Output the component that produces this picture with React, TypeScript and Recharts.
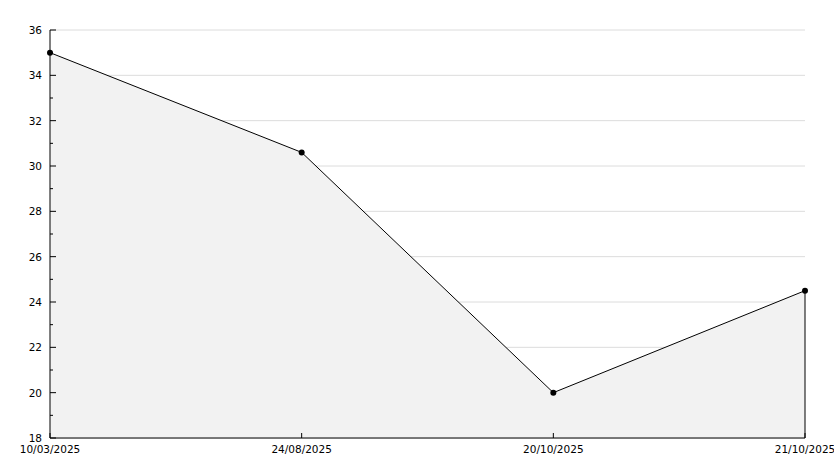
import { AreaChart, Area, XAxis, YAxis, CartesianGrid, ReferenceLine } from "recharts"

const dates = ["10/03/2025", "24/08/2025", "20/10/2025", "21/10/2025"]
const values = [35, 30.6, 20, 24.5]
const yTicks = [18, 19, 20, 21, 22, 23, 24, 25, 26, 27, 28, 29, 30, 31, 32, 33, 34, 35, 36]
const yMajor = [18, 20, 22, 24, 26, 28, 30, 32, 34, 36]

const data = dates.map((date, i) => ({ date, value: values[i] }))

const font = "'DejaVu Sans', sans-serif"

function YTick(props: any) {
  const { x, y, payload } = props
  const major = yMajor.includes(payload.value)
  return (
    <g>
      <line x1={x + 8} x2={x + (major ? 14 : 11)} y1={y} y2={y} stroke="#000" />
      {major && (
        <text x={x} y={y} dy={4} textAnchor="end" fontSize={10.5} fontFamily={font} fill="#000">
          {payload.value}
        </text>
      )}
    </g>
  )
}

function XTick(props: any) {
  const { x, y, payload } = props
  return (
    <g>
      <line x1={x} x2={x} y1={y} y2={y - 5} stroke="#000" />
      <text x={x} y={y} dy={15} textAnchor="middle" fontSize={10.5} fontFamily={font} fill="#000">
        {payload.value}
      </text>
    </g>
  )
}

export default function App() {
  const last = data[data.length - 1]
  return (
    <div style={{ position: "absolute", left: 0, top: 0, background: "#fff" }}>
      <AreaChart
        width={834}
        height={468}
        data={data}
        margin={{ top: 30, right: 29, bottom: 0, left: 0 }}
      >
        <CartesianGrid vertical={false} horizontalValues={yMajor} stroke="#dcdcdc" />
        <XAxis
          dataKey="date"
          height={30}
          tickLine={false}
          tickSize={0}
          tickMargin={0}
          axisLine={{ stroke: "#000" }}
          tick={<XTick />}
          interval={0}
        />
        <YAxis
          width={50}
          domain={[18, 36]}
          ticks={yTicks}
          interval={0}
          tickLine={false}
          tickSize={0}
          tickMargin={8}
          axisLine={{ stroke: "#000" }}
          tick={<YTick />}
        />
        <Area
          type="linear"
          dataKey="value"
          stroke="#000"
          strokeWidth={1}
          fill="#f2f2f2"
          fillOpacity={1}
          dot={{ r: 3, fill: "#000", stroke: "#000", strokeWidth: 0 }}
          activeDot={false}
          isAnimationActive={false}
        />
        <ReferenceLine
          segment={[
            { x: last.date, y: 18 },
            { x: last.date, y: last.value },
          ]}
          stroke="#000"
        />
      </AreaChart>
    </div>
  )
}
